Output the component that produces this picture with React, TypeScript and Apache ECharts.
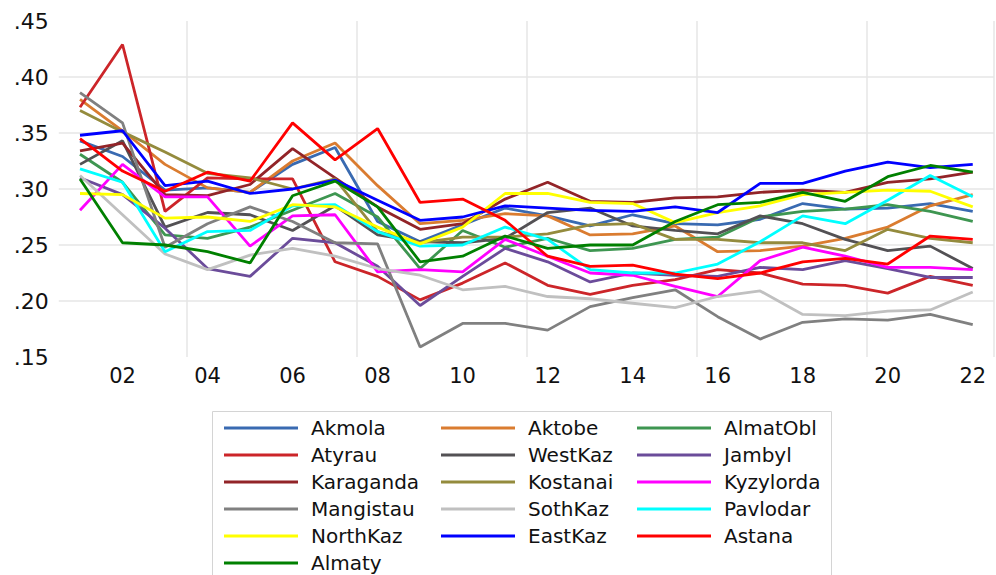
import React, { useEffect, useRef } from "react";
import * as echarts from "echarts";

const years = ["2001","2002","2003","2004","2005","2006","2007","2008","2009","2010","2011","2012","2013","2014","2015","2016","2017","2018","2019","2020","2021","2022"];

const Akmola = [0.343,0.329,0.299,0.301,0.297,0.322,0.337,0.271,0.253,0.268,0.283,0.276,0.267,0.277,0.269,0.268,0.273,0.287,0.282,0.283,0.287,0.280];
const Aktobe = [0.380,0.352,0.322,0.301,0.297,0.325,0.341,0.303,0.269,0.272,0.278,0.276,0.259,0.260,0.267,0.244,0.245,0.249,0.256,0.266,0.285,0.295];
const AlmatObl = [0.331,0.306,0.259,0.256,0.266,0.281,0.296,0.275,0.229,0.263,0.248,0.256,0.245,0.247,0.255,0.257,0.275,0.280,0.282,0.286,0.280,0.271];
const Atyrau = [0.373,0.429,0.280,0.310,0.309,0.309,0.235,0.222,0.201,0.216,0.234,0.214,0.206,0.214,0.219,0.228,0.225,0.215,0.214,0.207,0.222,0.214];
const WestKaz = [0.322,0.343,0.266,0.279,0.277,0.263,0.285,0.259,0.253,0.252,0.256,0.279,0.283,0.267,0.263,0.260,0.276,0.269,0.255,0.245,0.249,0.229];
const Jambyl = [0.310,0.295,0.265,0.229,0.222,0.256,0.252,0.231,0.196,0.222,0.247,0.235,0.217,0.225,0.223,0.222,0.230,0.228,0.236,0.229,0.221,0.221];
const Karaganda = [0.334,0.341,0.295,0.294,0.304,0.336,0.310,0.284,0.264,0.269,0.291,0.306,0.289,0.288,0.292,0.293,0.297,0.299,0.297,0.306,0.309,0.315];
const Kostanai = [0.370,0.351,0.333,0.314,0.310,0.300,0.309,0.262,0.252,0.257,0.257,0.260,0.268,0.269,0.255,0.255,0.252,0.252,0.245,0.264,0.256,0.252];
const Kyzylorda = [0.281,0.322,0.293,0.293,0.249,0.276,0.277,0.226,0.228,0.226,0.255,0.240,0.225,0.223,0.213,0.204,0.236,0.248,0.240,0.230,0.230,0.228];
const Mangistau = [0.386,0.359,0.248,0.269,0.284,0.271,0.252,0.251,0.159,0.180,0.180,0.174,0.195,0.203,0.210,0.186,0.166,0.181,0.184,0.183,0.188,0.179];
const SothKaz = [0.312,0.277,0.242,0.228,0.241,0.247,0.240,0.229,0.223,0.210,0.213,0.204,0.202,0.198,0.194,0.204,0.209,0.188,0.187,0.191,0.192,0.208];
const Pavlodar = [0.318,0.306,0.244,0.262,0.263,0.285,0.286,0.262,0.249,0.250,0.266,0.255,0.228,0.225,0.225,0.233,0.253,0.276,0.269,0.290,0.312,0.293];
const NorthKaz = [0.296,0.295,0.274,0.275,0.271,0.286,0.284,0.266,0.251,0.266,0.296,0.296,0.288,0.287,0.270,0.279,0.285,0.295,0.297,0.299,0.298,0.284];
const EastKaz = [0.348,0.352,0.303,0.307,0.296,0.300,0.308,0.290,0.272,0.275,0.285,0.283,0.281,0.280,0.284,0.279,0.305,0.305,0.316,0.324,0.319,0.322];
const Astana = [0.345,0.316,0.298,0.315,0.307,0.359,0.326,0.354,0.288,0.291,0.272,0.240,0.231,0.232,0.224,0.220,0.225,0.235,0.238,0.233,0.258,0.255];
const Almaty = [0.309,0.252,0.250,0.244,0.234,0.294,0.307,0.284,0.235,0.240,0.258,0.247,0.250,0.250,0.271,0.286,0.288,0.297,0.289,0.311,0.321,0.315];

const seriesNames = ["Akmola","Aktobe","AlmatObl","Atyrau","WestKaz","Jambyl","Karaganda","Kostanai","Kyzylorda","Mangistau","SothKaz","Pavlodar","NorthKaz","EastKaz","Astana","Almaty"];
const seriesValues = [Akmola,Aktobe,AlmatObl,Atyrau,WestKaz,Jambyl,Karaganda,Kostanai,Kyzylorda,Mangistau,SothKaz,Pavlodar,NorthKaz,EastKaz,Astana,Almaty];
const seriesColors = ["#396AB1","#DA7C30","#3E9651","#CC2529","#535154","#6B4C9A","#922428","#948B3D","#FF00FF","#808080","#C0C0C0","#00FFFF","#FFFF00","#0000FF","#FF0000","#008000"];

const legendCol1 = ["Akmola","Atyrau","Karaganda","Mangistau","NorthKaz","Almaty"];
const legendCol2 = ["Aktobe","WestKaz","Kostanai","SothKaz","EastKaz"];
const legendCol3 = ["AlmatObl","Jambyl","Kyzylorda","Pavlodar","Astana"];

const FONT = "DejaVu Sans";

export default function App() {
  const ref = useRef<HTMLDivElement>(null);
  useEffect(() => {
    if (!ref.current) return;
    const chart = echarts.init(ref.current, undefined, { renderer: "svg" });
    const mkLegend = (data: string[], left: number) => ({
      data,
      orient: "vertical",
      left,
      top: 418,
      padding: 0,
      icon: "path://M0,0 L74,0 L74,3 L0,3 Z",
      itemWidth: 74,
      itemHeight: 3,
      itemGap: 7,
      textStyle: { fontFamily: FONT, fontSize: 20, color: "#111", lineHeight: 20, padding: [0, 0, 0, 8] },
    });
    chart.setOption({
      animation: false,
      backgroundColor: "#fff",
      grid: { left: 58.75, right: 2, top: 21, bottom: 218, containLabel: false },
      xAxis: {
        type: "category",
        data: years,
        boundaryGap: true,
        axisLine: { show: false },
        axisTick: { show: false },
        axisLabel: {
          interval: (i: number) => i % 2 === 1,
          formatter: (v: string) => v.slice(2),
          fontFamily: FONT,
          fontSize: 21,
          color: "#111",
          margin: 8,
        },
        splitLine: {
          show: true,
          interval: (i: number) => i % 4 === 3,
          lineStyle: { color: "#E6E6E6", width: 1.5 },
        },
      },
      yAxis: {
        type: "value",
        min: 0.15,
        max: 0.45,
        interval: 0.05,
        axisLine: { show: false },
        axisTick: { show: false },
        axisLabel: {
          formatter: (v: number) => v.toFixed(2).replace(/^0/, ""),
          fontFamily: FONT,
          fontSize: 22,
          color: "#111",
          margin: 10,
        },
        splitLine: { show: true, showMinLine: false, showMaxLine: false, lineStyle: { color: "#E6E6E6", width: 1.5 } },
      },
      legend: [mkLegend(legendCol1, 224), mkLegend(legendCol2, 441), mkLegend(legendCol3, 637)],
      graphic: [
        {
          type: "rect",
          shape: { x: 212.5, y: 411.5, width: 619, height: 200 },
          style: { fill: "none", stroke: "#D4D4D4", lineWidth: 1 },
          silent: true,
        },
      ],
      series: seriesNames.map((name, i) => ({
        name,
        type: "line",
        data: seriesValues[i],
        symbol: "none",
        color: seriesColors[i],
        lineStyle: { width: 2.8, color: seriesColors[i] },
        itemStyle: { color: seriesColors[i] },
      })),
    });
    return () => chart.dispose();
  }, []);
  return <div ref={ref} style={{ position: "fixed", left: 0, top: 0, width: 996, height: 575 }} />;
}
